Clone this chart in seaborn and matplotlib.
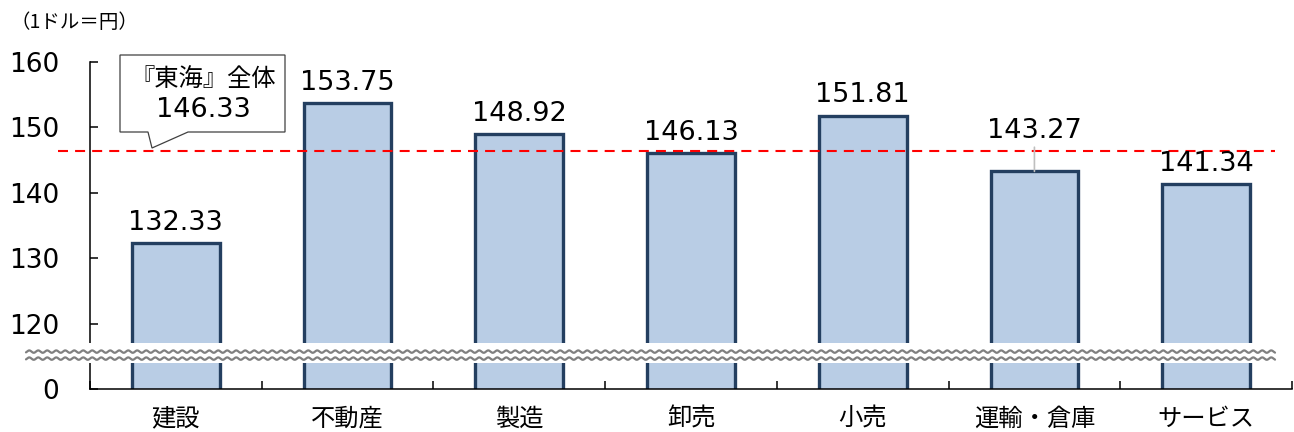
import numpy as np
import matplotlib
matplotlib.use("Agg")
import matplotlib.pyplot as plt
import seaborn as sns
from matplotlib.patches import Polygon, Rectangle

categories = ["建設", "不動産", "製造", "卸売", "小売", "運輸・倉庫", "サービス"]
values = [132.33, 153.75, 148.92, 146.13, 151.81, 143.27, 141.34]
overall_label = "『東海』全体"
overall_value = 146.33
ytick_values = [110, 120, 130, 140, 150, 160]
ytick_labels = ["0", "120", "130", "140", "150", "160"]
unit_label = "（1ドル＝円）"

sns.set_style("white")
plt.rcParams["font.family"] = ["DejaVu Sans", "Noto Sans CJK JP"]
plt.rcParams["text.color"] = "black"
plt.rcParams["xtick.color"] = "black"
plt.rcParams["ytick.color"] = "black"

W, H = 1294, 432
fig = plt.figure(figsize=(W / 100, H / 100), dpi=100)
L, R, T, B = 90, 1292, 62, 389
ax = fig.add_axes([L / W, 1 - B / H, (R - L) / W, (B - T) / H])

sns.barplot(x=categories, y=values, color="#B9CDE5", edgecolor="#243F60",
            linewidth=2.4, width=0.51, saturation=1, ax=ax, zorder=2)

ax.set_ylim(110, 160)
ax.set_xlim(-0.5, len(categories) - 0.5)
ax.set_yticks(ytick_values)
ax.set_yticklabels(ytick_labels, fontsize=19)
ax.tick_params(axis="y", direction="in", length=6, width=1.1, pad=22, left=True,
               labelcolor="black")
ax.tick_params(axis="x", which="major", length=0, pad=12, labelsize=17.5,
               labelcolor="black")
ax.set_xticks(np.arange(-0.5, len(categories), 1.0), minor=True)
ax.tick_params(axis="x", which="minor", direction="in", length=6, width=1.1, bottom=True)
ax.set_xlabel("")
ax.set_ylabel("")
for s in ["top", "right"]:
    ax.spines[s].set_visible(False)
for s in ["left", "bottom"]:
    ax.spines[s].set_color("black")
    ax.spines[s].set_linewidth(1.1)

# average dashed line
ax.axhline(overall_value, xmin=-0.027, xmax=0.986, color="#FF0000", lw=1.5,
           dashes=(4.8, 3.4), clip_on=False, zorder=3)

# value labels
for i, v in enumerate(values):
    if categories[i] == "運輸・倉庫":
        ax.annotate(f"{v:.2f}", (i, v), xytext=(0, 24), textcoords="offset points",
                    ha="center", va="baseline", fontsize=19.5, color="black")
        ax.annotate("", (i, v), xytext=(i, v + 3.7),
                    arrowprops=dict(arrowstyle="-", color="#BFBFBF", lw=1.2,
                                    shrinkA=0, shrinkB=0))
    else:
        ax.annotate(f"{v:.2f}", (i, v), xytext=(0, 9.5), textcoords="offset points",
                    ha="center", va="baseline", fontsize=19.5, color="black")

# axis break band
ytr = ax.get_yaxis_transform()
px_per_unit = (B - T) / 50.0
def ypx(p):
    return 120 - (p - 324) / px_per_unit
x0a = (26 - L) / (R - L)
x1a = (1275 - L) / (R - L)
band = Rectangle((x0a, ypx(363)), x1a - x0a, ypx(343) - ypx(363), transform=ytr,
                 facecolor="white", edgecolor="none", clip_on=False, zorder=5)
ax.add_patch(band)
xs = np.linspace(x0a, x1a, 1500)
period = 9.0 / (R - L)
amp = 1.2 / px_per_unit
for yc in (352, 359):
    ax.plot(xs, ypx(yc) + amp * np.sin(2 * np.pi * xs / period), transform=ytr,
            color="#808080", lw=1.6, clip_on=False, zorder=6)

# callout box
pts = [(120, 55), (285, 55), (285, 132), (188, 132), (152, 148), (148, 132), (120, 132)]
poly = Polygon([(x / W, 1 - y / H) for x, y in pts], closed=True,
               transform=fig.transFigure, facecolor="white", edgecolor="#404040",
               lw=0.9, zorder=7)
fig.add_artist(poly)
fig.text(203 / W, 1 - 79 / H, overall_label, ha="center", va="center", fontsize=17.5,
         zorder=8, color="black")
fig.text(203 / W, 1 - 110 / H, f"{overall_value:.2f}", ha="center", va="center",
         fontsize=19.5, zorder=8, color="black")

fig.text(10 / W, 1 - 22 / H, unit_label, ha="left", va="center", fontsize=14,
         family=["Noto Sans CJK JP", "DejaVu Sans"], color="black")

for lbl in ax.get_xticklabels():
    lbl.set_family(["Noto Sans CJK JP", "DejaVu Sans"])

fig.savefig("out.png", dpi=100)
